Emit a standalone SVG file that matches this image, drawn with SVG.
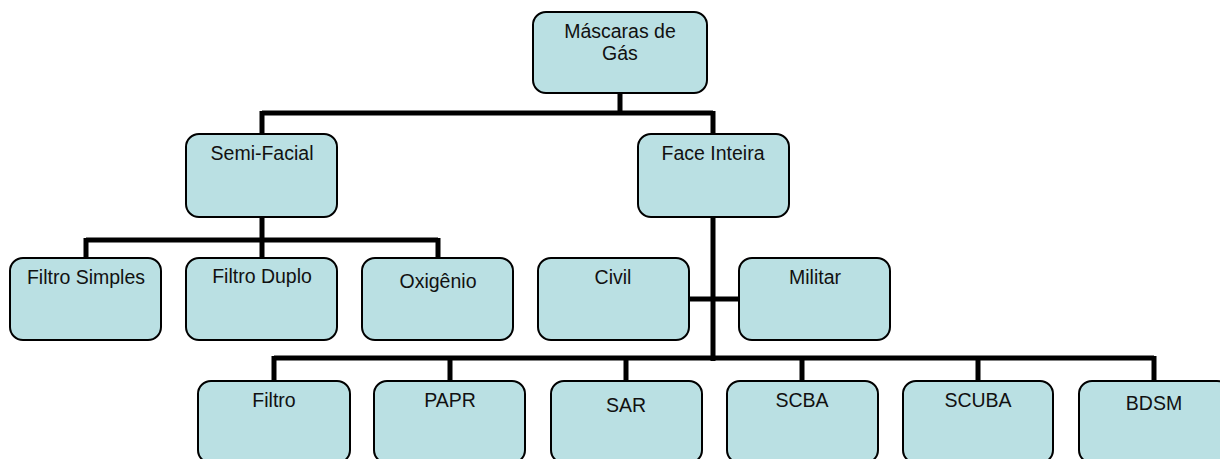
<svg xmlns="http://www.w3.org/2000/svg" width="1220" height="459" viewBox="0 0 1220 459">
<style>
.box{fill:#BAE0E3;stroke:#000;stroke-width:2}
.t{font-family:"Liberation Sans",Arial,sans-serif;font-size:19.5px;fill:#111;text-anchor:middle}
.c{stroke:#000;stroke-width:5;fill:none;stroke-linecap:butt}
</style>
<rect width="1220" height="459" fill="#fff"/>
<g id="connectors">
<path class="c" d="M620 93V113M262 113H713M262 111V134M713 111V134"/>
<path class="c" d="M262 217V240M86 240H438M86 238V258M262 238V258M438 238V258"/>
<path class="c" d="M713 217V361M689 299H739"/>
<path class="c" d="M274 358H1154M274 356V381M450 356V381M626 356V381M802 356V381M978 356V381M1154 356V381"/>
</g>
<g id="n-mascaras"><rect class="box" x="533" y="12" width="174" height="81" rx="13"/><text class="t" x="620" y="38">Máscaras de</text><text class="t" x="620" y="60">Gás</text></g>
<g id="n-semifacial"><rect class="box" x="186" y="134" width="151" height="83" rx="13"/><text class="t" x="262" y="160">Semi-Facial</text></g>
<g id="n-faceinteira"><rect class="box" x="638" y="134" width="151" height="83" rx="13"/><text class="t" x="713" y="160">Face Inteira</text></g>
<g id="n-filtrosimples"><rect class="box" x="10" y="258" width="151" height="82" rx="13"/><text class="t" x="86" y="284">Filtro Simples</text></g>
<g id="n-filtroduplo"><rect class="box" x="186" y="258" width="151" height="82" rx="13"/><text class="t" x="262" y="283">Filtro Duplo</text></g>
<g id="n-oxigenio"><rect class="box" x="362" y="258" width="151" height="82" rx="13"/><text class="t" x="438" y="288">Oxigênio</text></g>
<g id="n-civil"><rect class="box" x="538" y="258" width="151" height="82" rx="13"/><text class="t" x="613" y="284">Civil</text></g>
<g id="n-militar"><rect class="box" x="739" y="258" width="151" height="82" rx="13"/><text class="t" x="815" y="284">Militar</text></g>
<g id="n-filtro"><rect class="box" x="198" y="381" width="152" height="82" rx="13"/><text class="t" x="274" y="407">Filtro</text></g>
<g id="n-papr"><rect class="box" x="374" y="381" width="151" height="82" rx="13"/><text class="t" x="450" y="407">PAPR</text></g>
<g id="n-sar"><rect class="box" x="551" y="381" width="151" height="82" rx="13"/><text class="t" x="626" y="412">SAR</text></g>
<g id="n-scba"><rect class="box" x="727" y="381" width="151" height="82" rx="13"/><text class="t" x="802" y="407">SCBA</text></g>
<g id="n-scuba"><rect class="box" x="903" y="381" width="150" height="82" rx="13"/><text class="t" x="978" y="407">SCUBA</text></g>
<g id="n-bdsm"><rect class="box" x="1079" y="381" width="151" height="82" rx="13"/><text class="t" x="1154" y="410">BDSM</text></g>
</svg>
